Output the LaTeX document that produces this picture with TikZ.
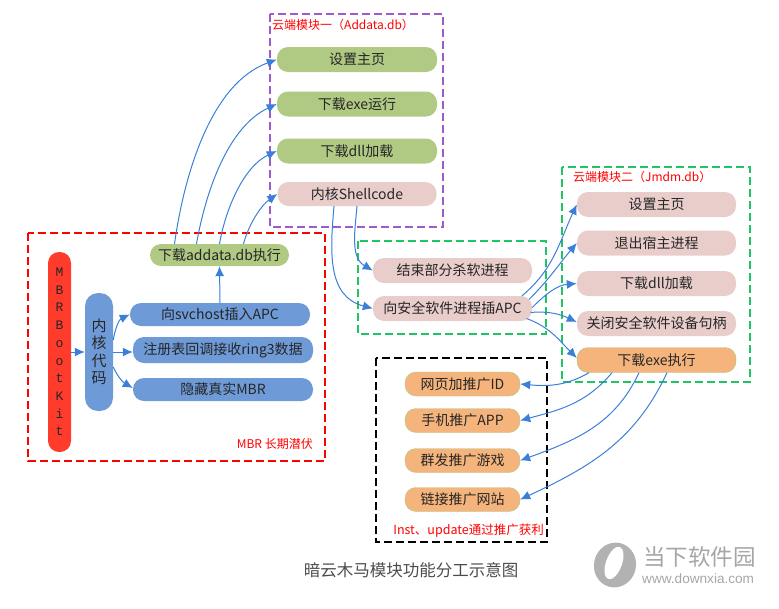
\documentclass[tikz,border=0pt]{standalone}
\usepackage{fontspec}
\setmainfont{Noto Sans CJK SC}
\setmonofont{Liberation Mono}
\newfontfamily\urlfont{Liberation Sans}
\usetikzlibrary{arrows.meta}
\definecolor{mgreen}{HTML}{B0C983}
\definecolor{mpink}{HTML}{E9CDCB}
\definecolor{mblue}{HTML}{6E9BD8}
\definecolor{mred}{HTML}{FF3B2C}
\definecolor{morange}{HTML}{F4B47C}
\definecolor{mline}{HTML}{3A7FD8}
\definecolor{mpurple}{HTML}{9A5CC8}
\definecolor{mdash}{HTML}{1FC463}
\tikzset{
  pill/.style={rounded corners=11pt,inner sep=0pt,minimum height=25pt,text=black!85,font=\fontsize{14}{16}\selectfont},
  flow/.style={draw=mline,line width=1pt,-{Latex[length=10pt,width=9pt]}},
  dashbox/.style={line width=1.5pt,dash pattern=on 8pt off 4pt},
  note/.style={text=red,font=\fontsize{12}{14}\selectfont,inner sep=0pt}
}
\begin{document}
\begin{tikzpicture}[x=1pt,y=-1pt]
  \useasboundingbox (0,0) rectangle (779,608);
  % frames
  \draw[dashbox,red] (28,233) rectangle (325,461);
  \draw[dashbox,mpurple] (270,14) rectangle (443,227);
  \draw[dashbox,mdash] (562,167) rectangle (750,382);
  \draw[dashbox,mdash] (358,241) rectangle (546,334);
  \draw[dashbox,black] (376,358) rectangle (547,542);
  \node[note,anchor=west] (titleA) at (272,25) {云端模块一（Addata.db）};
  \node[note,anchor=west] (titleB) at (573,177) {云端模块二（Jmdm.db）};
  \node[note,anchor=east] (titleC) at (313,444) {MBR 长期潜伏};
  \node[note,anchor=east,font=\fontsize{12.5}{14}\selectfont] (titleD) at (544,531) {Inst、update通过推广获利};
  % left part
  \node[pill,fill=mred,rounded corners=11pt,minimum width=23pt,minimum height=200pt,align=center,font=\ttfamily\fontsize{13}{17.7}\selectfont] (boot) at (59.5,352)
    {M\\B\\R\\B\\o\\o\\t\\K\\i\\t};
  \node[pill,fill=mblue,rounded corners=13pt,minimum width=28pt,minimum height=118pt,align=center,font=\fontsize{15}{17.5}\selectfont] (kern) at (99,352) {内\\核\\代\\码};
  \node[pill,fill=mblue,minimum width=180pt,minimum height=23pt] (apc) at (220,314.5) {向svchost插入APC};
  \node[pill,fill=mblue,minimum width=180pt,minimum height=26pt] (reg) at (223,350) {注册表回调接收ring3数据};
  \node[pill,fill=mblue,minimum width=180pt,minimum height=23pt] (mbr) at (223,389.5) {隐藏真实MBR};
  \node[pill,fill=mgreen,minimum width=139pt,minimum height=22pt] (add) at (219.5,255) {下载addata.db执行};
  % cloud module one
  \foreach \nm/\y/\lab in {a1/59.5/设置主页, a2/104/下载exe运行, a3/151/下载dll加载}
    \node[pill,fill=mgreen,minimum width=160pt] (\nm) at (357,\y) {\lab};
  \node[pill,fill=mpink,minimum width=159pt,minimum height=24pt] (a4) at (357,194) {内核Shellcode};
  % middle
  \node[pill,fill=mpink,minimum width=159pt] (stop) at (452.5,270.5) {结束部分杀软进程};
  \node[pill,fill=mpink,minimum width=159pt] (inj) at (452.5,308.5) {向安全软件进程插APC};
  % cloud module two
  \foreach \nm/\y/\lab in {b1/204.5/设置主页, b2/243/退出宿主进程, b3/283.5/下载dll加载, b4/323.5/关闭安全软件设备句柄}
    \node[pill,fill=mpink,minimum width=159pt] (\nm) at (656.5,\y) {\lab};
  \node[pill,fill=morange,draw=mgreen,minimum width=159pt,minimum height=25pt] (b5) at (656.5,360) {下载exe执行};
  % promotion
  \foreach \nm/\y/\lab in {c1/384/网页加推广ID, c2/420.5/手机推广APP, c3/460.5/群发推广游戏, c4/499.5/链接推广网站}
    \node[pill,fill=morange,draw=mgreen,minimum width=115pt,minimum height=24pt] (\nm) at (462.5,\y) {\lab};
  % connectors
  \draw[flow] (boot.east) -- (kern.west);
  \draw[flow] (kern.east) -- (reg.west |- kern.east);
  \draw[flow] ([yshift=12pt]kern.east) to[out=80,in=205] (apc.west);
  \draw[flow] ([yshift=-15pt]kern.east) to[out=-65,in=150] ([yshift=1.5pt]mbr.west);
  \draw[flow] (apc.north) -- (add.south);
  \draw[flow] ([xshift=-45pt]add.north) to[out=82,in=200,looseness=0.85] (a1.west);
  \draw[flow] ([xshift=-23pt]add.north) to[out=80,in=205,looseness=0.85] (a2.west);
  \draw[flow] (add.north) to[out=80,in=205,looseness=0.85] (a3.west);
  \draw[flow] ([xshift=24pt]add.north) to[out=75,in=215,looseness=0.85] (a4.west);
  \draw[flow] (a4.south) to[out=-95,in=150] (stop.west);
  \draw[flow] ([xshift=-23pt]a4.south) to[out=-95,in=165,looseness=1.1] (inj.west);
  \draw[flow] ([xshift=69.5pt]inj.north) to[out=40,in=245] (b1.west);
  \draw[flow] ([xshift=76.5pt,yshift=9pt]inj.center) to[out=45,in=230] (b2.west);
  \draw[flow] ([yshift=1pt]inj.east) to[out=45,in=185] (b3.west);
  \draw[flow] ([xshift=78pt,yshift=-4pt]inj.center) to[out=5,in=155] ([yshift=1.5pt]b4.west);
  \draw[flow] ([xshift=74pt,yshift=-10pt]inj.center) to[out=-20,in=135] ([yshift=2pt]b5.west);
  \foreach \dx/\aout/\ain/\nm in {-67.5/-150/-5/c1, -44.5/-130/15/c2, -17.5/-115/20/c3, 10.5/-115/25/c4}
    \draw[flow] ([xshift=\dx pt]b5.south) to[out=\aout,in=\ain] (\nm.east);
  % caption and site mark
  \node[inner sep=0pt,text=black!70,font=\fontsize{16.5}{18}\selectfont] (cap) at (411,570) {暗云木马模块功能分工示意图};
  \fill[black!30,rotate around={-15:(615,565)}] (615,565) ellipse (21 and 22.5);
  \fill[white,rotate around={-20:(614,563)}] (614,563) ellipse (8 and 17);
  \node[inner sep=0pt,anchor=west,text=black!35,font=\fontsize{22.5}{25}\selectfont] (site) at (643,557) {当下软件园};
  \node[inner sep=0pt,anchor=west,text=black!35,font=\urlfont\fontsize{13.6}{15}\selectfont] (url) at (642,579) {www.downxia.com};
\end{tikzpicture}
\end{document}
